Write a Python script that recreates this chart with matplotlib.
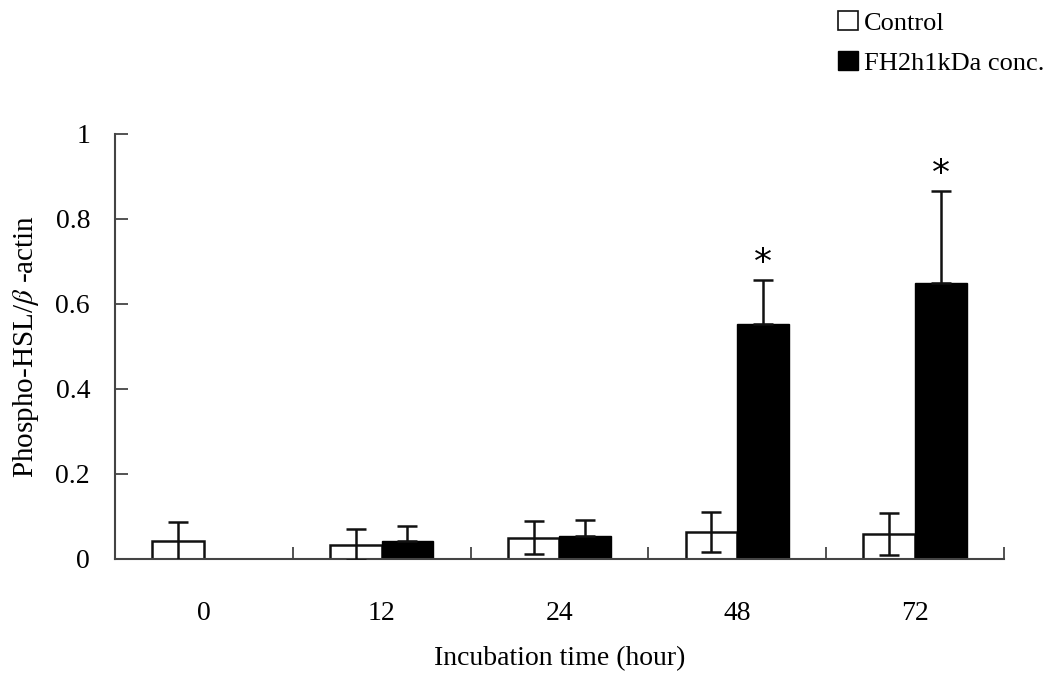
import numpy as np
import matplotlib.pyplot as plt
from matplotlib.patches import Patch

plt.rcParams['font.family'] = ['Liberation Serif', 'DejaVu Serif']
plt.rcParams['mathtext.fontset'] = 'stix'

hours = ['0', '12', '24', '48', '72']
control = [0.042, 0.034, 0.050, 0.063, 0.059]
control_err = [0.046, 0.037, 0.039, 0.047, 0.050]
treated = [0.0, 0.043, 0.055, 0.553, 0.650]
treated_err = [0.0, 0.034, 0.036, 0.104, 0.215]
signif = [False, False, False, True, True]

fig = plt.figure(figsize=(10.61, 6.77), dpi=100)
ax = fig.add_axes([0.1084, 0.1743, 0.8378, 0.6278])

x = np.arange(len(hours))
w = 0.29
edge = '#111111'

ax.bar(x - w / 2, control, w, color='white', edgecolor=edge, linewidth=1.8, zorder=2)
ax.errorbar(x - w / 2, control, yerr=control_err, fmt='none', ecolor=edge,
            elinewidth=1.8, capsize=7, capthick=1.8, zorder=3)

has_bar = [v > 0 for v in treated]
tx = x[has_bar] + w / 2
tv = np.array(treated)[has_bar]
te = np.array(treated_err)[has_bar]
ax.bar(tx, tv, w, color='black', edgecolor='black', linewidth=1.0, zorder=2)
ax.errorbar(tx, tv, yerr=[np.zeros_like(te), te], fmt='none', ecolor=edge,
            elinewidth=1.8, capsize=7, capthick=1.8, zorder=3)

# significance marks
for i, s in enumerate(signif):
    if s:
        ax.text(x[i] + w / 2, treated[i] + treated_err[i] + 0.04, '*',
                ha='center', va='center', fontsize=26, family='DejaVu Sans')

ax.set_xlim(-0.5, len(hours) - 0.5)
ax.set_ylim(0, 1)

ax.set_xticks(x + 0.5)
ax.set_xticklabels([])
ax.set_xticks(x, minor=True)
ax.set_xticklabels(hours, minor=True)
ax.tick_params(axis='x', which='major', direction='in', length=9, width=1.3, color='#444444')
ax.tick_params(axis='x', which='minor', length=0, pad=30, labelsize=20)

ax.set_yticks([0, 0.2, 0.4, 0.6, 0.8, 1])
ax.set_yticklabels(['0', '0.2', '0.4', '0.6', '0.8', '1'])
ax.tick_params(axis='y', direction='in', length=9, width=1.3, color='#444444',
               labelsize=20, pad=18)

for side in ['top', 'right']:
    ax.spines[side].set_visible(False)
for side in ['left', 'bottom']:
    ax.spines[side].set_color('#444444')
    ax.spines[side].set_linewidth(1.5)

ax.set_xlabel('Incubation time (hour)', fontsize=20, labelpad=15)
ax.set_ylabel(r'Phospho-HSL/$\beta$ -actin', fontsize=21, labelpad=10)

handles = [Patch(facecolor='white', edgecolor=edge, linewidth=1.2, label='Control'),
           Patch(facecolor='black', edgecolor='black', label='FH2h1kDa conc.')]
fig.legend(handles=handles, loc='upper left', bbox_to_anchor=(0.776, 1.005),
           frameon=False, fontsize=19, handlelength=0.75, handleheight=0.75,
           handletextpad=0.25, labelspacing=0.6, borderaxespad=0.15)

fig.savefig('out.png', dpi=100)
